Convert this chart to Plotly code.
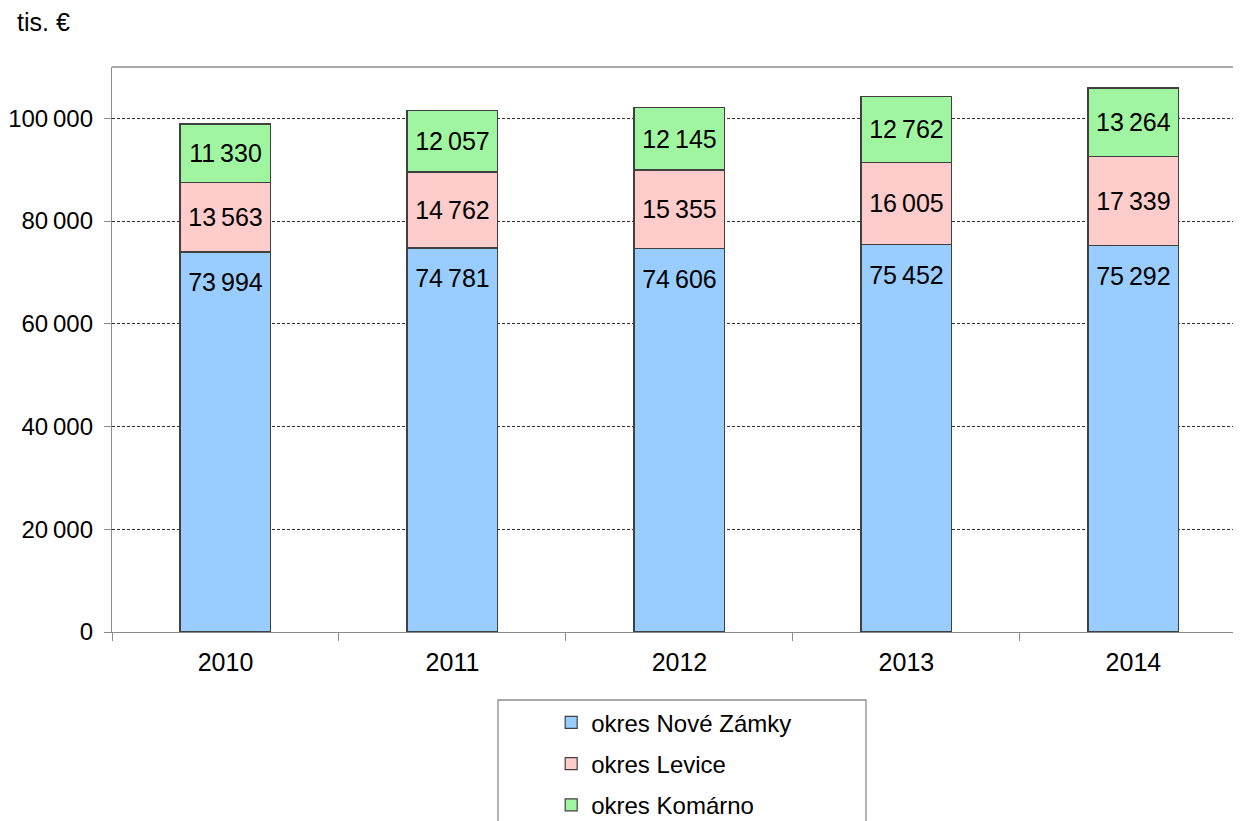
import plotly.graph_objects as go

years = ["2010", "2011", "2012", "2013", "2014"]
nove_zamky = [73994, 74781, 74606, 75452, 75292]
levice = [13563, 14762, 15355, 16005, 17339]
komarno = [11330, 12057, 12145, 12762, 13264]
series_names = ["okres Nové Zámky", "okres Levice", "okres Komárno"]
y_ticks = [0, 20000, 40000, 60000, 80000, 100000]

def fmt(v):
    return f"{v:,}".replace(",", "\u2009")

colors = ["#99CCFF", "#FFCCCC", "#A0F5A0"]
font_family = "Liberation Sans, Arial, sans-serif"

fig = go.Figure()
for i, (vals, name, col) in enumerate(zip([nove_zamky, levice, komarno], series_names, colors)):
    if i == 0:
        labels = ["<span style='font-size:4px'> </span><br>" + fmt(v) for v in vals]
    else:
        labels = [fmt(v) for v in vals]
    fig.add_trace(go.Bar(
        x=years, y=vals, name=name,
        marker=dict(color=col, line=dict(color="#404040", width=1.2)),
        width=0.4,
        text=labels,
        textposition="inside",
        insidetextanchor="end" if i == 0 else "middle",
        textangle=0,
        textfont=dict(size=25, color="black", family=font_family),
        legendgroup=name,
    ))

PH = 565  # plot height in px
fig.update_layout(
    barmode="stack",
    width=1233, height=813,
    margin=dict(l=104, r=0, t=59, b=189, autoexpand=False),
    plot_bgcolor="white", paper_bgcolor="white",
    font=dict(family=font_family, color="black", size=22),
    bargap=0.6,
    showlegend=True,
    legend=dict(
        x=0.389, y=-0.121, xanchor="left", yanchor="top",
        orientation="v", tracegroupgap=7,
        font=dict(size=24, color="black", family=font_family),
        bgcolor="rgba(0,0,0,0)", borderwidth=0,
        traceorder="grouped",
    ),
    uniformtext=dict(mode=False),
)
fig.update_xaxes(
    type="category", range=[-0.5, 4.474],
    showline=True, linecolor="#8C8C8C", linewidth=1.3,
    ticks="outside", tickson="boundaries", ticklen=8, tickcolor="#8C8C8C",
    ticklabelstandoff=8,
    showgrid=False, tickfont=dict(size=25, color="black"),
)
fig.update_yaxes(
    range=[0, 110000], tickvals=y_ticks, ticktext=[fmt(v) for v in y_ticks],
    showline=True, linecolor="#8C8C8C", linewidth=1.3,
    ticks="outside", ticklen=7, tickcolor="#8C8C8C",
    ticklabelstandoff=6,
    showgrid=True, gridcolor="#303030", gridwidth=1, griddash="3px,2px",
    tickfont=dict(size=24, color="black"), zeroline=False,
)
# top border of plot area
fig.add_shape(type="line", xref="paper", yref="paper", x0=0, x1=1, y0=1, y1=1,
              line=dict(color="#8C8C8C", width=1.3))
# legend box
fig.add_shape(type="rect", xref="paper", yref="paper",
              x0=(498 - 112) / 1129, x1=(866 - 112) / 1129,
              y0=-(700 - 632) / PH, y1=-(900 - 632) / PH,
              line=dict(color="#8C8C8C", width=1.3), fillcolor="rgba(0,0,0,0)")
fig.add_annotation(text="tis. €", xref="paper", yref="paper",
                   x=(15 - 112) / 1129, y=1 + (67 - 22) / PH,
                   xanchor="left", yanchor="middle", showarrow=False,
                   font=dict(size=25, color="black"))

fig.write_html("out.html")
